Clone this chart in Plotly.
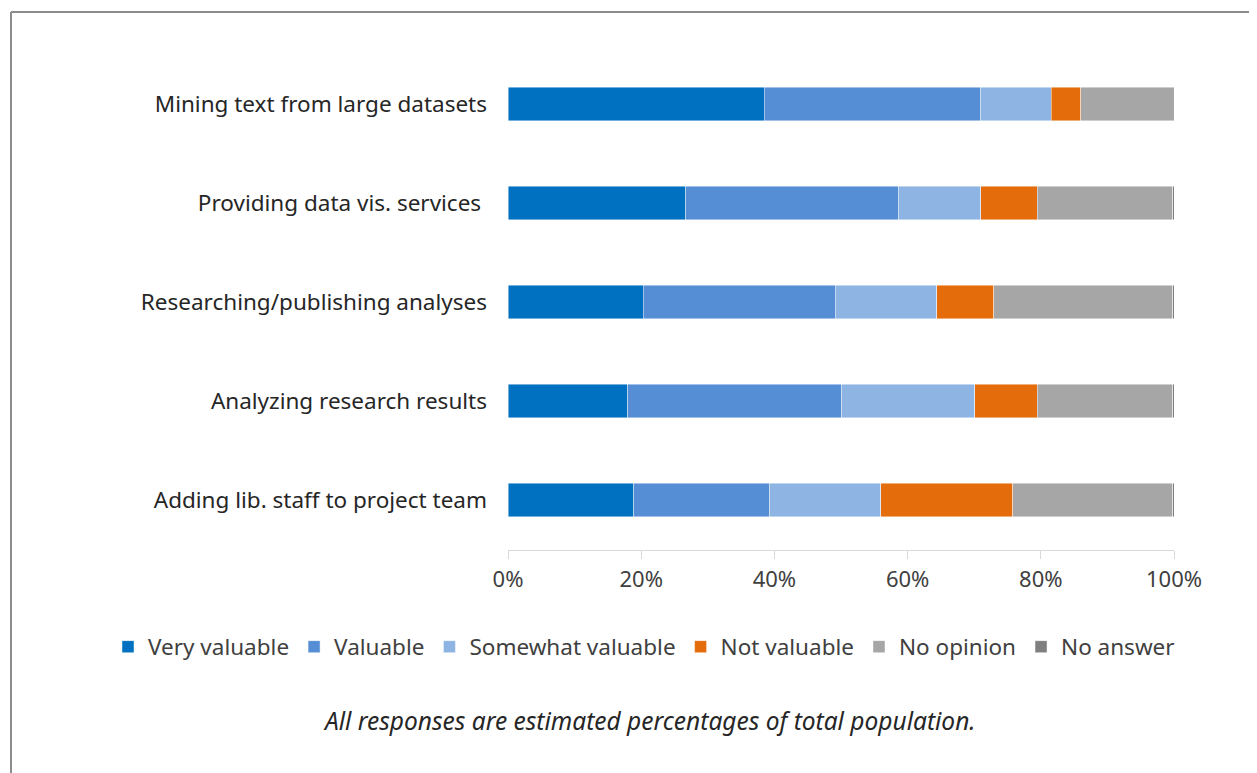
import plotly.graph_objects as go

categories = [
    "Mining text from large datasets",
    "Providing data vis. services ",
    "Researching/publishing analyses",
    "Analyzing research results",
    "Adding lib. staff to project team",
]
very_valuable = [38.5, 26.7, 20.3, 18.0, 18.9]
valuable = [32.5, 32.0, 28.8, 32.1, 20.4]
somewhat_valuable = [10.6, 12.3, 15.3, 20.0, 16.7]
not_valuable = [4.4, 8.5, 8.5, 9.4, 19.8]
no_opinion = [14.0, 20.3, 26.9, 20.3, 24.0]
no_answer = [0.0, 0.2, 0.2, 0.2, 0.2]

tick_values = [0, 20, 40, 60, 80, 100]
tick_labels = ["0%", "20%", "40%", "60%", "80%", "100%"]

series = [
    ("Very valuable", very_valuable, "#0070C0"),
    ("Valuable", valuable, "#558ED5"),
    ("Somewhat valuable", somewhat_valuable, "#8EB4E3"),
    ("Not valuable", not_valuable, "#E46C0A"),
    ("No opinion", no_opinion, "#A6A6A6"),
    ("No answer", no_answer, "#7F7F7F"),
]

W, H = 1257, 773
FONT = "Noto Sans"
TXT = "#404040"

# screen pixel -> paper fraction (page body margin of 8px)
def px_x(x):
    return (x - 8.0) / W

def px_y(y):
    return 1 - (y - 8.0) / H

fig = go.Figure()
for name, vals, color in series:
    fig.add_trace(go.Bar(
        name=name, y=categories, x=vals, orientation="h",
        marker=dict(color=color, line=dict(color="rgba(255,255,255,0.6)", width=0.75)),
    ))

fig.update_layout(
    template="none",
    width=W, height=H,
    margin=dict(l=0, r=0, t=0, b=0, pad=0, autoexpand=False),
    paper_bgcolor="white", plot_bgcolor="white",
    barmode="stack", bargap=0.657,
    font=dict(family=FONT, size=22.5, color=TXT),
    xaxis=dict(
        domain=[px_x(508), px_x(1174)], range=[0, 100],
        tickmode="array", tickvals=tick_values, ticktext=tick_labels,
        showgrid=False, zeroline=False, automargin=False,
        showline=True, linecolor="#D9D9D9", linewidth=1,
        ticks="outside", ticklen=8, tickcolor="#D9D9D9",
        ticklabelstandoff=2,
        tickfont=dict(family=FONT, size=22, color=TXT),
        anchor="y",
    ),
    yaxis=dict(
        domain=[px_y(549.5), px_y(54.5)],
        autorange="reversed", showgrid=False, zeroline=False, automargin=False,
        showline=False, ticks="", ticklabelstandoff=20,
        tickfont=dict(family=FONT, size=22.5, color="#262626"),
    ),
    legend=dict(
        orientation="h", x=px_x(644), xanchor="center", y=px_y(647), yanchor="middle",
        font=dict(family=FONT, size=22.5, color=TXT), traceorder="normal",
        itemwidth=30, bgcolor="rgba(0,0,0,0)", borderwidth=0,
    ),
    annotations=[dict(
        text="<i>All responses are estimated percentages of total population.</i>",
        x=px_x(649), y=px_y(720), xref="paper", yref="paper", showarrow=False,
        xanchor="center", yanchor="middle",
        font=dict(family=FONT, size=24.5, color="#262626"),
    )],
    shapes=[
        dict(type="line", xref="paper", yref="paper", x0=px_x(11), x1=1, y0=px_y(12), y1=px_y(12),
             line=dict(color="#8C8C8C", width=2)),
        dict(type="line", xref="paper", yref="paper", x0=px_x(11), x1=px_x(11), y0=0, y1=px_y(12),
             line=dict(color="#8C8C8C", width=2)),
    ],
)

fig.write_html("out.html")
